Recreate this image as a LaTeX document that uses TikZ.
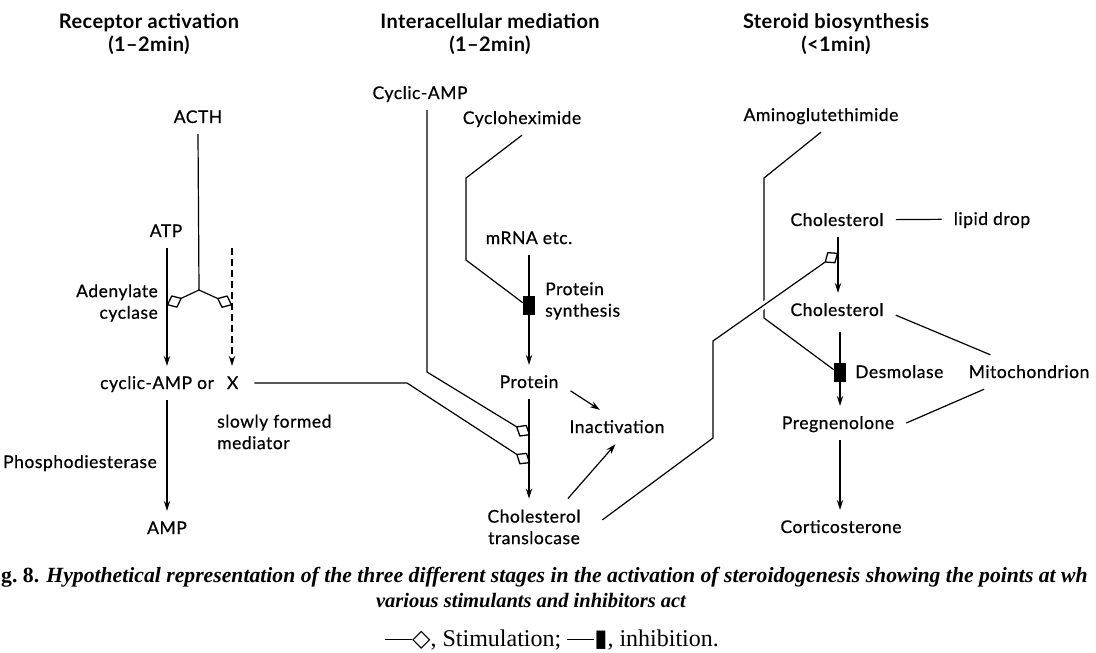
\documentclass[tikz,border=0pt]{standalone}
\usepackage{fontspec}
\setmainfont{Lato}[LetterSpace=2]
\newfontfamily\lblfont{Lato}[LetterSpace=3, FakeBold=0.6]
\newfontfamily\capfont{Liberation Serif}
\newfontfamily\symfont{DejaVu Sans}
\usetikzlibrary{arrows.meta,calc}
\tikzset{txt/.style={font=\lblfont\fontsize{17.5}{21.5}\selectfont, inner xsep=12pt, inner ysep=11pt}}
\tikzset{lbl/.style={txt, text height=12pt, text depth=0pt}}
\tikzset{ttl/.style={font=\bfseries\fontsize{20}{23}\selectfont, align=center}}
\tikzset{conn/.style={line width=1.2pt}}
\tikzset{arr/.style={conn, -{Stealth[length=10pt,width=6.5pt]}}}
\tikzset{stim/.style={conn, -{Diamond[open,length=17pt,width=14pt,line width=1.3pt,round]}}}
\tikzset{inh/.style={fill=black, minimum width=12pt, minimum height=19pt, inner sep=0pt}}

\begin{document}
\begin{tikzpicture}[x=1pt, y=-1pt]
\useasboundingbox (0,0) rectangle (1096,653);

\node[ttl] (ttlrec) at (149,34) {Receptor activation\\(1--2min)};
\node[ttl] (ttlmed) at (490,34) {Interacellular mediation\\(1--2min)};
\node[ttl] (ttlste) at (836,34) {Steroid biosynthesis\\(<1min)};

\node[lbl] (acth) at (198,117) {ACTH};
\node[lbl] (atp) at (166,231) {ATP};
\node[txt, align=right, anchor=east] (adc) at (170,303) {Adenylate\\cyclase};
\node[lbl, anchor=west] (cyc) at (88,383) {cyclic-AMP or\hspace{8pt} X};
\node[lbl, anchor=east] (pde) at (169,462) {Phosphodiesterase};
\node[txt, align=left, anchor=west] (sfm) at (205,432) {slowly formed\\mediator};
\node[lbl] (amp) at (167,528) {AMP};

\node[lbl] (camp) at (420,93) {Cyclic-AMP};
\node[lbl] (chx) at (522,118) {Cycloheximide};
\node[lbl] (mrna) at (529,238) {mRNA etc.};
\node[inh] (psyn) at (529,305) {};
\node[txt, align=left, anchor=west] (psynlbl) at (533,301) {Protein\\synthesis};
\node[lbl] (prot) at (529,382) {Protein};
\node[lbl] (inact) at (617,427) {Inactivation};
\node[txt, align=center] (ctl) at (534,527) {Cholesterol\\translocase};

\node[lbl] (amg) at (821,115) {Aminoglutethimide};
\node[lbl] (chol1) at (837,220) {Cholesterol};
\node[lbl] (lipid) at (992,219) {lipid drop};
\node[lbl] (chol2) at (837,310) {Cholesterol};
\node[inh] (desm) at (840,372) {};
\node[lbl, anchor=west] (desmlbl) at (843,372) {Desmolase};
\node[lbl] (mito) at (1029,372) {Mitochondrion};
\node[lbl] (preg) at (838,423) {Pregnenolone};
\node[lbl] (cort) at (841,527) {Corticosterone};

\coordinate (jn) at (199,290);
\coordinate (adcL) at (167,305);
\coordinate (adcR) at (232,305);
\coordinate (xtop) at (232,248);
\coordinate (xbend) at (407,383);
\coordinate (cbend) at (427,372);
\coordinate (ctA) at (530,435);
\coordinate (ctB) at (530,463);
\coordinate (chxA) at (466,178);
\coordinate (chxB) at (466,260);
\coordinate (tbA) at (713,438);
\coordinate (tbB) at (713,341);
\coordinate (cholmid) at (838,253);
\coordinate (amgA) at (764,178);
\coordinate (amgB) at (764,318);

\draw[conn] (acth.south) -- (jn);
\draw[stim] (jn) -- (adcL);
\draw[stim] (jn) -- (adcR);
\draw[arr] (atp.south -| adcL) -- (adcL |- cyc.north);
\draw[arr, dash pattern=on 7pt off 4pt] (xtop) -- (xtop |- cyc.north);
\draw[arr] (cyc.south -| amp) -- (amp.north);
\draw[stim, shorten <=4pt] (cyc.east) -- (xbend) -- (ctB);

\draw[stim] (camp.south -| cbend) -- (cbend) -- (ctA);
\draw[conn] (chx.south) -- (chxA) -- (chxB) -- (psyn.160);
\draw[arr] (mrna.south) -- (mrna.south |- prot.north);
\draw[arr] (prot.south) -- (prot.south |- ctl.north);
\draw[arr] (prot.-12) -- (inact.135);
\draw[arr] (ctl.40) -- (inact.-95);

\draw[conn] (amg.south) -- (amgA) -- (amgB) -- (desm.160);
\draw[white, line width=7pt] ($(tbB)!.36!(cholmid)$) -- ($(tbB)!.46!(cholmid)$);
\draw[stim, shorten <=12pt] (ctl.east) -- (tbA) -- (tbB) -- (cholmid);
\draw[arr] (chol1.south -| cholmid) -- (cholmid |- chol2.north);
\draw[conn] (chol1) -- (lipid);
\draw[conn] (chol2.-5) -- (mito.156);
\draw[conn] (mito.201) -- (preg.east);
\draw[arr, shorten <=5pt] (chol2.south -| desm) -- (desm |- preg.north);
\draw[arr] (preg.south -| desm) -- (desm |- cort.north);

\node[anchor=base west, font=\capfont\bfseries\fontsize{21.7}{24}\selectfont, inner sep=0pt] (cap1) at (1,582)
  {g.\ 8. \itshape Hypothetical representation of the three different stages in the activation of steroidogenesis showing the points at wh};
\node[anchor=base, font=\capfont\bfseries\itshape\fontsize{20.5}{24}\selectfont, inner sep=0pt] (cap2) at (531,607)
  {various stimulants and inhibitors act};
\node[anchor=base, font=\capfont\fontsize{24}{26}\selectfont, inner sep=0pt] (legend) at (552,646)
  {\rule[6pt]{27pt}{1pt}{\symfont ◇}, Stimulation; \rule[6pt]{27pt}{1pt}{\symfont ▮}, inhibition.};
\end{tikzpicture}
\end{document}
